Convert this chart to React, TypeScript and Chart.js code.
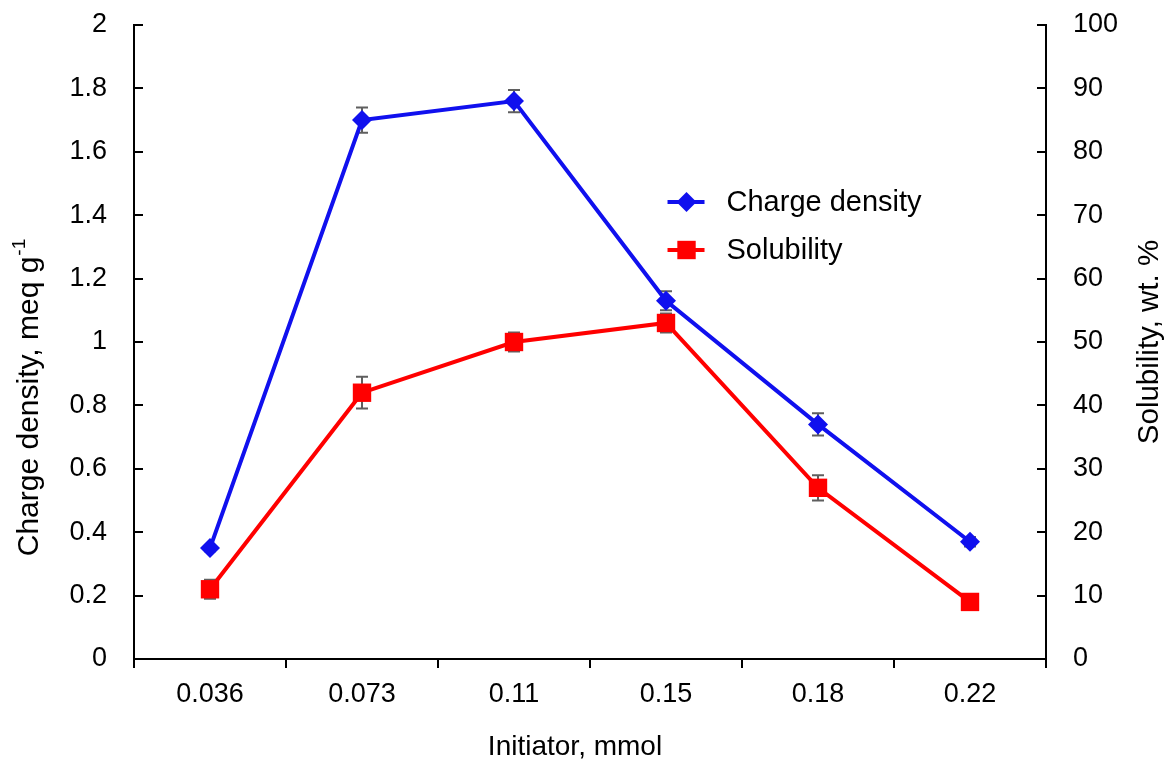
import { useEffect, useRef } from "react";
import { Chart, registerables } from "chart.js";

Chart.register(...registerables);

const categories = ["0.036", "0.073", "0.11", "0.15", "0.18", "0.22"];
const chargeDensity = [0.35, 1.7, 1.76, 1.13, 0.74, 0.37];
const chargeDensityErr = [0.01, 0.04, 0.035, 0.03, 0.035, 0.015];
const solubility = [11, 42, 50, 53, 27, 9];
const solubilityErr = [1.5, 2.5, 1.5, 1.5, 2, 0.5];

const FONT = "'Liberation Sans', Arial, sans-serif";
const BLUE = "#1010EE";
const RED = "#FF0000";
const ERR = "#5F5F5F";

const errorBars = {
  id: "errorBars",
  beforeDatasetsDraw(chart: any) {
    const ctx = chart.ctx;
    const x = chart.scales.x;
    const sets = [
      { vals: chargeDensity, errs: chargeDensityErr, scale: chart.scales.y },
      { vals: solubility, errs: solubilityErr, scale: chart.scales.y1 },
    ];
    ctx.save();
    ctx.strokeStyle = ERR;
    ctx.lineWidth = 2;
    for (const s of sets) {
      s.vals.forEach((v, i) => {
        const px = x.getPixelForValue(i);
        const top = s.scale.getPixelForValue(v + s.errs[i]);
        const bot = s.scale.getPixelForValue(v - s.errs[i]);
        ctx.beginPath();
        ctx.moveTo(px, top);
        ctx.lineTo(px, bot);
        ctx.moveTo(px - 6, top);
        ctx.lineTo(px + 6, top);
        ctx.moveTo(px - 6, bot);
        ctx.lineTo(px + 6, bot);
        ctx.stroke();
      });
    }
    ctx.restore();
  },
};

const decorations = {
  id: "decorations",
  afterDraw(chart: any) {
    const ctx = chart.ctx;
    const a = chart.chartArea;
    ctx.save();
    // inside ticks on y axes
    ctx.strokeStyle = "#000";
    ctx.lineWidth = 2;
    const yl = chart.scales.y;
    const yr = chart.scales.y1;
    yl.ticks.forEach((t: any) => {
      const py = Math.round(yl.getPixelForValue(t.value));
      ctx.beginPath();
      ctx.moveTo(a.left, py);
      ctx.lineTo(a.left + 9, py);
      ctx.stroke();
    });
    yr.ticks.forEach((t: any) => {
      const py = Math.round(yr.getPixelForValue(t.value));
      ctx.beginPath();
      ctx.moveTo(a.right, py);
      ctx.lineTo(a.right - 9, py);
      ctx.stroke();
    });

    // axis titles
    ctx.fillStyle = "#000";
    ctx.textBaseline = "alphabetic";
    ctx.font = `28px ${FONT}`;
    ctx.textAlign = "center";
    ctx.fillText("Initiator, mmol", (a.left + a.right) / 2 - 15, 755);

    // left title with superscript
    const main = "Charge density, meq g";
    const sup = "-1";
    ctx.font = `30px ${FONT}`;
    const wMain = ctx.measureText(main).width;
    ctx.font = `19px ${FONT}`;
    const wSup = ctx.measureText(sup).width;
    const total = wMain + wSup;
    const cy = (a.top + a.bottom) / 2 + 56;
    ctx.save();
    ctx.translate(38, cy);
    ctx.rotate(-Math.PI / 2);
    ctx.textAlign = "left";
    ctx.font = `30px ${FONT}`;
    ctx.fillText(main, -total / 2, 0);
    ctx.font = `19px ${FONT}`;
    ctx.fillText(sup, -total / 2 + wMain + 1, -13);
    ctx.restore();

    // right title
    ctx.save();
    ctx.translate(1158, (a.top + a.bottom) / 2);
    ctx.rotate(-Math.PI / 2);
    ctx.textAlign = "center";
    ctx.font = `29.5px ${FONT}`;
    ctx.fillText("Solubility, wt. %", 0, 0);
    ctx.restore();

    // legend
    const lx = a.left + (a.right - a.left) * 0.585;
    const items = chart.data.datasets.map((d: any, i: number) => ({
      label: d.label,
      color: d.borderColor,
      style: d.pointStyle,
      radius: d.pointRadius,
      y: a.top + 177 + i * 48,
    }));
    for (const it of items) {
      ctx.strokeStyle = it.color;
      ctx.lineWidth = 4;
      ctx.beginPath();
      ctx.moveTo(lx, it.y);
      ctx.lineTo(lx + 37, it.y);
      ctx.stroke();
      ctx.fillStyle = it.color;
      const cx = lx + 19;
      ctx.beginPath();
      if (it.style === "rectRot") {
        const r = it.radius;
        ctx.moveTo(cx, it.y - r);
        ctx.lineTo(cx + r, it.y);
        ctx.lineTo(cx, it.y + r);
        ctx.lineTo(cx - r, it.y);
        ctx.closePath();
      } else {
        const s = it.radius * Math.SQRT1_2;
        ctx.rect(cx - s, it.y - s, 2 * s, 2 * s);
      }
      ctx.fill();
      ctx.fillStyle = "#000";
      ctx.font = `29px ${FONT}`;
      ctx.textAlign = "left";
      ctx.textBaseline = "middle";
      ctx.fillText(it.label, lx + 59, it.y + 1);
      ctx.textBaseline = "alphabetic";
    }
    ctx.restore();
  },
};

function noVerticalPadding(scale: any) {
  scale.paddingTop = 0;
  scale.paddingBottom = 0;
}

export default function App() {
  const ref = useRef<HTMLCanvasElement | null>(null);
  useEffect(() => {
    if (!ref.current) return;
    const chart = new Chart(ref.current, {
      type: "line",
      data: {
        labels: categories,
        datasets: [
          {
            label: "Charge density",
            data: chargeDensity,
            yAxisID: "y",
            borderColor: BLUE,
            backgroundColor: BLUE,
            borderWidth: 4,
            pointStyle: "rectRot",
            pointRadius: 10,
            pointHoverRadius: 10,
            pointBorderWidth: 0,
            tension: 0,
          },
          {
            label: "Solubility",
            data: solubility,
            yAxisID: "y1",
            borderColor: RED,
            backgroundColor: RED,
            borderWidth: 4,
            pointStyle: "rect",
            pointRadius: 13,
            pointHoverRadius: 13,
            pointBorderWidth: 0,
            tension: 0,
          },
        ],
      },
      options: {
        responsive: false,
        animation: false,
        layout: { padding: { top: 25, left: 0, right: 0, bottom: 0 } },
        plugins: { legend: { display: false }, tooltip: { enabled: false } },
        scales: {
          x: {
            type: "category",
            offset: true,
            grid: {
              display: true,
              drawOnChartArea: false,
              drawTicks: true,
              tickLength: 9,
              color: "#000",
              lineWidth: 2,
              offset: true,
            },
            border: { display: true, color: "#000", width: 2 },
            ticks: { color: "#000", font: { family: FONT, size: 27 }, padding: 10, maxRotation: 0 },
            afterFit(scale: any) {
              scale.height = 102;
              scale.paddingLeft = 0;
              scale.paddingRight = 0;
            },
          },
          y: {
            position: "left",
            min: 0,
            max: 2,
            ticks: {
              stepSize: 0.2,
              color: "#000",
              font: { family: FONT, size: 27 },
              padding: 27,
              callback: (v: any) => String(Math.round(Number(v) * 10) / 10),
            },
            grid: { display: false, drawTicks: false },
            border: { display: true, color: "#000", width: 2 },
            afterFit(scale: any) {
              scale.width = 134;
              noVerticalPadding(scale);
            },
          },
          y1: {
            position: "right",
            min: 0,
            max: 100,
            ticks: {
              stepSize: 10,
              color: "#000",
              font: { family: FONT, size: 27 },
              padding: 27,
            },
            grid: { display: false, drawTicks: false },
            border: { display: true, color: "#000", width: 2 },
            afterFit(scale: any) {
              scale.width = 119;
              noVerticalPadding(scale);
            },
          },
        },
      },
      plugins: [errorBars, decorations],
    });
    return () => chart.destroy();
  }, []);
  return (
    <div style={{ position: "absolute", left: 0, top: 0, width: 1165, height: 761, background: "#fff" }}>
      <canvas ref={ref} width={1165} height={761} />
    </div>
  );
}
